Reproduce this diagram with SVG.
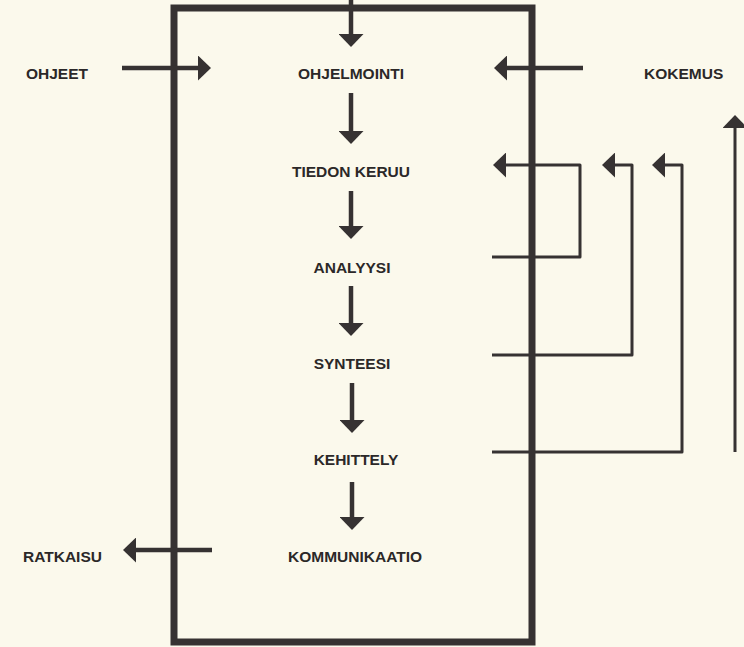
<svg xmlns="http://www.w3.org/2000/svg" width="744" height="647" viewBox="0 0 744 647">
  <style>
    .bg { fill: #fbf9ec; }
    .frame { fill: none; stroke: #363232; stroke-width: 7; stroke-linejoin: miter; }
    .flow { fill: none; stroke: #363232; stroke-width: 4.5; }
    .loop { fill: none; stroke: #363232; stroke-width: 3; stroke-linejoin: round; }
    .lbl { font-family: "Liberation Sans", Arial, sans-serif; font-weight: bold; font-size: 15.5px; fill: #2b2828; }
    .mid { text-anchor: middle; }
  </style>
  <defs>
    <marker id="head" viewBox="0 0 13 25" refX="0" refY="12.5" markerWidth="13" markerHeight="25" markerUnits="userSpaceOnUse" orient="auto">
      <path d="M0,0 L13,12.5 L0,25 Z" fill="#363232"/>
    </marker>
  </defs>

  <rect class="bg" x="0" y="0" width="744" height="647"/>

  <!-- process frame -->
  <g id="frame">
    <rect class="frame" x="174" y="8" width="358" height="634"/>
  </g>

  <!-- connectors -->
  <g id="connectors">
    <!-- main vertical flow -->
    <line class="flow" x1="351" y1="0" x2="351" y2="34" marker-end="url(#head)"/>
    <line class="flow" x1="351" y1="93" x2="351" y2="131" marker-end="url(#head)"/>
    <line class="flow" x1="351" y1="191" x2="351" y2="226" marker-end="url(#head)"/>
    <line class="flow" x1="351" y1="286" x2="351" y2="323" marker-end="url(#head)"/>
    <line class="flow" x1="352" y1="383" x2="352" y2="420" marker-end="url(#head)"/>
    <line class="flow" x1="352" y1="482" x2="352" y2="517" marker-end="url(#head)"/>

    <!-- inputs and output -->
    <line class="flow" x1="122" y1="68" x2="198" y2="68" marker-end="url(#head)"/>
    <line class="flow" x1="583" y1="68" x2="507" y2="68" marker-end="url(#head)"/>
    <line class="flow" x1="212" y1="550" x2="136" y2="550" marker-end="url(#head)"/>

    <!-- feedback loops -->
    <polyline class="loop" points="492,257 580,257 580,165 506,165" marker-end="url(#head)"/>
    <polyline class="loop" points="492,355 632,355 632,165 615,165" marker-end="url(#head)"/>
    <polyline class="loop" points="492,452 682,452 682,165 665,165" marker-end="url(#head)"/>

    <!-- experience accumulates -->
    <line class="loop" x1="735" y1="452" x2="735" y2="128" marker-end="url(#head)"/>
  </g>

  <!-- stages -->
  <g id="ohjelmointi"><text class="lbl mid" x="351" y="79">OHJELMOINTI</text></g>
  <g id="tiedon-keruu"><text class="lbl mid" x="351" y="177">TIEDON KERUU</text></g>
  <g id="analyysi"><text class="lbl mid" x="352" y="273">ANALYYSI</text></g>
  <g id="synteesi"><text class="lbl mid" x="352" y="369">SYNTEESI</text></g>
  <g id="kehittely"><text class="lbl mid" x="356" y="465">KEHITTELY</text></g>
  <g id="kommunikaatio"><text class="lbl mid" x="355" y="562">KOMMUNIKAATIO</text></g>

  <!-- outside terms -->
  <g id="ohjeet"><text class="lbl" x="26" y="79">OHJEET</text></g>
  <g id="kokemus"><text class="lbl" x="644" y="79">KOKEMUS</text></g>
  <g id="ratkaisu"><text class="lbl" x="23" y="562">RATKAISU</text></g>
</svg>
